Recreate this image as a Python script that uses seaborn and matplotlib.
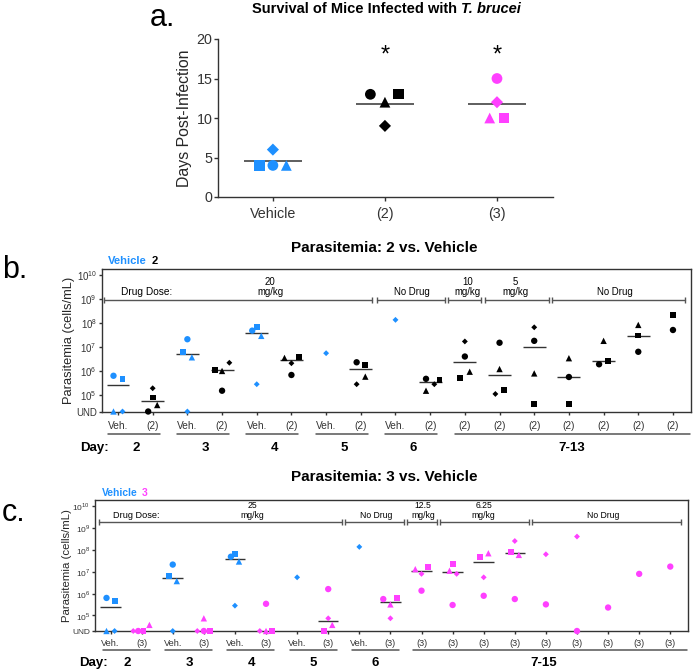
import numpy as np
import pandas as pd
import matplotlib
matplotlib.use("Agg")
import matplotlib.pyplot as plt
import matplotlib.transforms as mtransforms
from matplotlib.ticker import NullLocator
import seaborn as sns

# ---------------------------------------------------------------- data
MICE = ["circle", "square", "triangle", "diamond"]
UND = 0.0  # undetectable parasitemia

# a. survival (days post-infection) of each mouse
survival_groups = ["Vehicle", "(2)", "(3)"]
survival_circle = [4, 13, 15]
survival_square = [4, 13, 10]
survival_triangle = [4, 12, 10]
survival_diamond = [6, 9, 12]

# vehicle parasitemia (cells/mL), days 2-6, same mice in b. and c.
veh_days = ["2", "3", "4", "5", "6"]
veh_circle = [6.3e5, 2.1e7, 4.8e7, None, None]
veh_square = [4.7e5, 6.3e6, 6.6e7, None, None]
veh_triangle = [UND, 3.7e6, 2.9e7, None, None]
veh_diamond = [UND, UND, 2.8e5, 5.5e6, 1.35e8]
veh_mean = [2.5e5, 5.2e6, 3.7e7, None, None]

# compound 2, days 2-13
c2_days = ["2", "3", "4", "5", "6", "7", "8", "9", "10", "11", "12", "13"]
c2_circle = [UND, 1.5e5, 6.8e5, 2.3e6, 4.7e5, 4.0e6, 1.5e7, 1.8e7, 5.6e5, 1.9e6, 6.3e6, 5.1e7]
c2_square = [7.8e4, 1.1e6, 3.8e6, 1.8e6, 4.3e5, 4.9e5, 1.6e5, 4.2e4, 4.2e4, 2.7e6, 3.0e7, 2.1e8]
c2_triangle = [3.8e4, 1.0e6, 3.5e6, 5.8e5, 1.5e5, 9.3e5, 1.2e6, 7.9e5, 3.4e6, 1.8e7, 8.3e7, None]
c2_diamond = [1.9e5, 2.2e6, 2.1e6, 2.8e5, 2.8e5, 1.7e7, 1.1e5, 6.6e7, None, None, None, None]
c2_mean = [5.8e4, 1.1e6, 2.9e6, 1.2e6, 3.4e5, 2.3e6, 6.8e5, 1.0e7, 5.6e5, 2.7e6, 3.0e7, None]

# compound 3, days 2-15
c3_days = ["2", "3", "4", "5", "6", "7", "8", "9", "10", "11", "12", "13", "14", "15"]
c3_circle = [UND, UND, 3.4e5, 1.6e6, 5.6e5, 1.35e6, 3.0e5, 7.9e5, 5.6e5, 3.2e5, UND, 2.3e5, 7.9e6, 1.7e7]
c3_square = [UND, UND, UND, UND, 6.5e5, 1.7e7, 2.2e7, 4.8e7, 7.8e7, None, None, None, None, None]
c3_triangle = [3.7e4, 7.4e4, UND, 3.7e4, 3.2e5, 1.3e7, 1.1e7, 6.9e7, 5.8e7, None, None, None, None, None]
c3_diamond = [UND, UND, UND, 7.4e4, 7.4e4, 7.9e6, 7.9e6, 5.5e6, 2.5e8, 6.2e7, 4.0e8, None, None, None]
c3_mean = [None, None, None, 5.8e4, 4.3e5, 1.1e7, 9.8e6, 2.7e7, 6.9e7, None, None, None, None, None]

# ---------------------------------------------------------------- layout (point spread, not data)
surv_dx = {"circle": [0, -0.13, 0], "square": [-0.12, 0.12, 0.06],
           "triangle": [0.12, 0, -0.065], "diamond": [0, 0, 0]}
veh_dx = {"circle": [-0.13, 0, -0.13, 0, 0], "square": [0.13, -0.13, 0, 0, 0],
          "triangle": [-0.13, 0.13, 0.13, 0, 0], "diamond": [0.13, 0, 0, 0, 0]}
c2_dx = {"circle": [-0.13, 0, 0, -0.12, -0.12, 0, 0, 0, 0, -0.13, 0, 0],
         "square": [0, -0.21, 0.21, 0.13, 0.27, -0.14, 0.12, 0, 0, 0.13, 0, 0],
         "triangle": [0.13, 0, -0.2, 0.13, -0.12, 0.14, 0, 0, 0, 0, 0, 0],
         "diamond": [0, 0.21, 0, -0.12, 0.12, 0, -0.12, 0, 0, 0, 0, 0]}
c3_dx = {"circle": [-0.11, 0, 0, 0, -0.23, 0, 0, 0, 0, 0, 0, 0, 0, 0],
         "square": [0.06, 0.2, 0.2, -0.14, 0.22, 0.22, 0, -0.12, -0.12, 0, 0, 0, 0, 0],
         "triangle": [0.25, 0, 0, 0.13, 0, -0.2, -0.1, 0.15, 0.13, 0, 0, 0, 0, 0],
         "diamond": [-0.27, -0.21, -0.2, 0, 0, 0, 0.13, 0, 0, 0, 0, 0, 0, 0]}

BLUE = "#1e90ff"
PINK = "#ff40ff"
GREY = "#555555"
LINE = "#333333"
MARKERS = {"circle": "o", "square": "s", "triangle": "^", "diamond": "D"}

sns.set_style("ticks")
plt.rcParams["font.family"] = ["Liberation Sans", "DejaVu Sans"]
plt.rcParams["mathtext.fontset"] = "custom"
plt.rcParams["mathtext.rm"] = "Liberation Sans"
plt.rcParams["axes.edgecolor"] = LINE
plt.rcParams["xtick.color"] = LINE
plt.rcParams["ytick.color"] = LINE
plt.rcParams["text.color"] = "black"

fig = plt.figure(figsize=(6.97, 6.71), dpi=100)


def long_frame(x_pos, series, offsets, group, floor):
    rows = []
    for mouse in MICE:
        for x, v, dx in zip(x_pos, series[mouse], offsets[mouse]):
            if v is None:
                continue
            rows.append({"x": x + dx, "y": v if v > 0 else floor,
                         "mouse": mouse, "group": group})
    return pd.DataFrame(rows)


# ---------------------------------------------------------------- a. survival
ax_a = fig.add_axes([218 / 697, 1 - 197 / 671, 335 / 697, 158 / 671])
surv = {"circle": survival_circle, "square": survival_square,
        "triangle": survival_triangle, "diamond": survival_diamond}
surv_colors = {"Vehicle": BLUE, "(2)": "black", "(3)": PINK}
frames = []
for i, g in enumerate(survival_groups):
    frames.append(long_frame([i], {m: [surv[m][i]] for m in MICE},
                             {m: [surv_dx[m][i]] for m in MICE}, g, 0))
df_a = pd.concat(frames, ignore_index=True)
sns.scatterplot(data=df_a, x="x", y="y", hue="group", palette=surv_colors,
                style="mouse", markers=MARKERS, size="mouse",
                sizes={"circle": 60, "square": 55, "triangle": 60, "diamond": 38},
                legend=False, linewidth=0, zorder=3, ax=ax_a)
for i in range(len(survival_groups)):
    m = np.mean([surv[k][i] for k in MICE])
    ax_a.hlines(m, i - 0.26, i + 0.26, color=LINE, lw=1.1, zorder=2)
for i in (1, 2):
    ax_a.text(i, 17.9, "*", ha="center", va="center", fontsize=17)
ax_a.set_xlim(-0.49, 2.5)
ax_a.set_ylim(0, 20)
ax_a.set_yticks([0, 5, 10, 15, 20])
ax_a.set_xticks(range(3))
ax_a.set_xticklabels(survival_groups)
ax_a.tick_params(axis="both", labelsize=10.3, length=3, width=1)
ax_a.tick_params(axis="y", pad=1)
ax_a.tick_params(axis="x", pad=4)
ax_a.set_xlabel("")
ax_a.set_ylabel("Days Post-Infection", fontsize=11.4)
ax_a.yaxis.set_label_coords(-0.078, 0.5)
sns.despine(ax=ax_a)
for s in ax_a.spines.values():
    s.set_linewidth(1)

t = fig.text(251.7 / 697, 1 - 9 / 671, "Survival of Mice Infected with ",
             fontsize=10.5, fontweight="bold", va="center", ha="left")
ax_a.annotate("T. brucei", xy=(1, 0), xycoords=t, va="bottom", ha="left",
              fontsize=10.5, fontweight="bold", fontstyle="italic",
              annotation_clip=False)
fig.text(150 / 697, 1 - 18 / 671, "a.", fontsize=22, va="center", ha="left")


# ---------------------------------------------------------------- b. / c. parasitemia
def parasitemia_panel(rect, xpad, comp_days, comp, comp_dx, comp_mean, comp_name, comp_color,
                      ylim, bracket, spans, dose_texts, dose_x, label_fs, fs_small,
                      ylab_fs, ylab_x, days_line, day_spans, day_text_x, day_label_x,
                      last_span, last_text_x, last_label, tick_pad):
    ax = fig.add_axes(rect)
    ax.set_yscale("log")
    floor = 10 ** ylim[0]
    n_comp = len(comp_days)
    veh_x = [2 * i for i in range(5)]
    comp_x = [2 * i + 1 for i in range(5)] + [10 + i for i in range(n_comp - 5)]
    veh = {"circle": veh_circle, "square": veh_square,
           "triangle": veh_triangle, "diamond": veh_diamond}
    df = pd.concat([long_frame(veh_x, veh, veh_dx, "veh", floor),
                    long_frame(comp_x, comp, comp_dx, "comp", floor)],
                   ignore_index=True)
    sns.scatterplot(data=df, x="x", y="y", hue="group",
                    palette={"veh": BLUE, "comp": comp_color},
                    style="mouse", markers=MARKERS, size="mouse",
                    sizes={"circle": 21, "square": 18, "triangle": 21, "diamond": 9},
                    legend=False, linewidth=0, clip_on=False, zorder=3, ax=ax)
    for x, m in list(zip(veh_x, veh_mean)) + list(zip(comp_x, comp_mean)):
        if m is not None:
            ax.hlines(m, x - 0.33, x + 0.33, color=LINE, lw=1, zorder=2)

    n = 10 + n_comp - 5
    ax.set_xlim(xpad[0], n - 1 + xpad[1])
    ax.set_ylim(10 ** ylim[0], 10 ** ylim[1])
    ax.yaxis.set_minor_locator(NullLocator())
    ax.set_yticks([floor] + [10.0 ** k for k in range(5, 11)])
    ax.set_yticklabels(["UND"] + [r"$10^{%d}$" % k for k in range(5, 11)])
    ax.set_xticks(range(n))
    ax.set_xticklabels(["Veh.", comp_name] * 5 + [comp_name] * (n_comp - 5))
    ax.tick_params(axis="x", labelsize=label_fs, length=2.5, width=1, pad=tick_pad)
    ax.tick_params(axis="y", labelsize=fs_small, length=2.5, width=1, pad=1)
    ax.set_xlabel("")
    ax.set_ylabel("Parasitemia (cells/mL)", fontsize=ylab_fs)
    ax.yaxis.set_label_coords(ylab_x, 0.5)
    for s in ax.spines.values():
        s.set_linewidth(1)

    # dose brackets inside the plot
    lvl = 10 ** bracket
    for x0, x1 in spans:
        ax.plot([x0, x1], [lvl, lvl], color=GREY, lw=1, marker="|", ms=5, mew=1,
                clip_on=False)
    txt_y = 10 ** (bracket + 0.1)
    ax.text(dose_x, txt_y, "Drug Dose:", ha="left", va="bottom", fontsize=label_fs)
    for txt, x in dose_texts:
        ax.text(x, txt_y, txt, ha="center", va="bottom", fontsize=label_fs - 0.4,
                linespacing=1.1)

    # day groups below the axis
    trans = mtransforms.blended_transform_factory(ax.transData, ax.transAxes)
    uy, dy = days_line
    for i, d in enumerate(veh_days):
        ax.plot([2 * i + day_spans[0], 2 * i + day_spans[1]], [uy, uy], color=GREY,
                lw=1.1, transform=trans, clip_on=False)
        ax.text(2 * i + day_text_x, dy, d, transform=trans, ha="center", va="center",
                fontsize=9.5, fontweight="bold")
    ax.plot(last_span, [uy, uy], color=GREY, lw=1.1, transform=trans, clip_on=False)
    ax.text(last_text_x, dy, last_label, transform=trans, ha="center", va="center",
            fontsize=9.5, fontweight="bold")
    ax.text(day_label_x, dy, "Day:", transform=trans, ha="right", va="center",
            fontsize=9.5, fontweight="bold")

    # colour key above the plot
    key = ax.text(0.011, 1.056, "Vehicle", transform=ax.transAxes, color=BLUE,
                  fontsize=label_fs + 0.8, fontweight="bold", ha="left", va="center")
    ax.annotate(comp_name.strip("()"), xy=(1, 0.5), xycoords=key, xytext=(3.5, 0),
                textcoords="offset points", color=comp_color, fontsize=label_fs + 0.8,
                fontweight="bold", ha="left", va="center")
    return ax


c2 = {"circle": c2_circle, "square": c2_square, "triangle": c2_triangle, "diamond": c2_diamond}
ax_b = parasitemia_panel(
    [101.7 / 697, 1 - 411.5 / 671, 589.3 / 697, 142.5 / 671], (-0.47, 0.52),
    c2_days, c2, c2_dx, c2_mean, "(2)", "black",
    ylim=(4.31, 10.25), bracket=8.97,
    spans=[(-0.4, 7.33), (7.47, 9.43), (9.52, 10.47), (10.57, 12.43), (12.5, 16.34)],
    dose_texts=[("20\nmg/kg", 4.39), ("No Drug", 8.48), ("10\nmg/kg", 10.07),
                ("5\nmg/kg", 11.46), ("No Drug", 14.32)],
    dose_x=0.1, label_fs=7.3, fs_small=7, ylab_fs=9.3, ylab_x=-0.045,
    days_line=(-0.158, -0.256), day_spans=(-0.3, 1.2), day_text_x=0.52,
    day_label_x=-0.27, last_span=(9.73, 16.5), last_text_x=13.08, last_label="7-13",
    tick_pad=4)

c3 = {"circle": c3_circle, "square": c3_square, "triangle": c3_triangle, "diamond": c3_diamond}
ax_c = parasitemia_panel(
    [95 / 697, 1 - 631 / 671, 593 / 697, 131 / 671], (-0.5, 0.57),
    c3_days, c3, c3_dx, c3_mean, "(3)", PINK,
    ylim=(4.29, 10.27), bracket=9.27,
    spans=[(-0.36, 7.44), (7.54, 9.44), (9.53, 10.5), (10.6, 13.45), (13.55, 18.34)],
    dose_texts=[("25\nmg/kg", 4.55), ("No Drug", 8.54), ("12.5\nmg/kg", 10.05),
                ("6.25\nmg/kg", 12.0), ("No Drug", 15.84)],
    dose_x=0.08, label_fs=6.6, fs_small=6, ylab_fs=8.2, ylab_x=-0.039,
    days_line=(-0.145, -0.244), day_spans=(-0.24, 1.27), day_text_x=0.52,
    day_label_x=-0.08, last_span=(9.73, 18.54), last_text_x=13.94, last_label="7-15",
    tick_pad=3.5)

fig.text(384 / 697, 1 - 248 / 671, "Parasitemia: 2 vs. Vehicle", fontsize=11,
         fontweight="bold", ha="center", va="center")
fig.text(384 / 697, 1 - 477 / 671, "Parasitemia: 3 vs. Vehicle", fontsize=11,
         fontweight="bold", ha="center", va="center")
fig.text(2 / 697, 1 - 270 / 671, "b.", fontsize=22, va="center", ha="left")
fig.text(2 / 697, 1 - 513 / 671, "c.", fontsize=22, va="center", ha="left")

fig.savefig("out.png", dpi=100)
